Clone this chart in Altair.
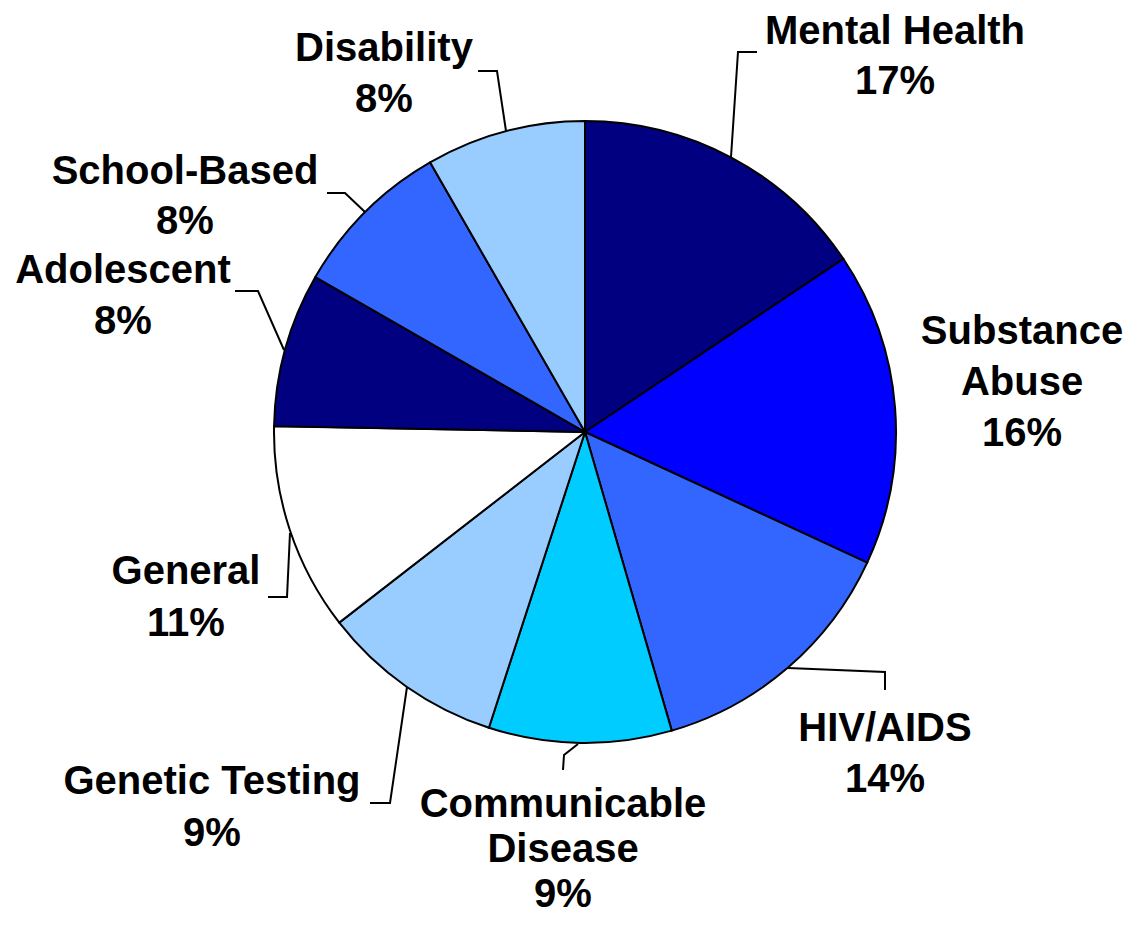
import altair as alt
import pandas as pd

# ---- data ----
categories = ["Mental Health", "Substance Abuse", "HIV/AIDS", "Communicable Disease",
              "Genetic Testing", "General", "Adolescent", "School-Based", "Disability"]
# slice sizes (percent, as drawn)
values = [15.6, 16.3, 13.6, 9.5, 9.5, 10.8, 8.0, 8.4, 8.3]
# percent labels as printed
pct_labels = ["17%", "16%", "14%", "9%", "9%", "11%", "8%", "8%", "8%"]
label_names = [["Mental Health"], ["Substance", "Abuse"], ["HIV/AIDS"],
               ["Communicable", "Disease"], ["Genetic Testing"], ["General"],
               ["Adolescent"], ["School-Based"], ["Disability"]]

# ---- styles / layout ----
colors = ["#000080", "#0000FF", "#3366FF", "#00CCFF", "#99CCFF",
          "#FFFFFF", "#000080", "#3366FF", "#99CCFF"]
W, H = 1116, 911
OFF = 8  # page margin
CX, CY, R = 585 - OFF, 432 - OFF, 311
FS = 40
# label centre x, first-line baseline, line gap (page coords)
label_pos = [(895, 44, 50), (1022, 344, 51), (885, 741, 51), (563, 817, 45),
             (212, 794, 52), (186, 584, 52), (123, 283, 51), (185, 184, 50),
             (384, 61, 51)]
# leader polylines (page coords)
leaders = [
    [(731, 157), (738, 52), (757, 52)],
    [],
    [(788, 668), (885, 672), (885, 690)],
    [(563, 770), (564, 755), (578, 744)],
    [(370, 803), (390, 803), (407, 687)],
    [(268, 597), (287, 597), (290, 533)],
    [(235, 291), (258, 291), (284, 350)],
    [(327, 193), (345, 193), (365, 212)],
    [(478, 71), (497, 71), (506, 131)],
]

pie_df = pd.DataFrame({"category": categories, "value": values,
                       "idx": list(range(len(categories)))})

rows = []
for i, (names, pct) in enumerate(zip(label_names, pct_labels)):
    lx, ly, gap = label_pos[i]
    for j, t in enumerate(names + [pct]):
        rows.append({"text": t, "x": lx - OFF, "y": ly - OFF + j * gap})
text_df = pd.DataFrame(rows)

lrows = []
for i, pts in enumerate(leaders):
    for k, (px, py) in enumerate(pts):
        lrows.append({"lid": i, "k": k, "x": px - OFF, "y": py - OFF})
lead_df = pd.DataFrame(lrows)

xs = alt.Scale(domain=[0, W], range=[0, W])
ys = alt.Scale(domain=[0, H], range=[0, H])

pie = alt.Chart(pie_df).mark_arc(outerRadius=R, stroke="black", strokeWidth=2).encode(
    theta=alt.Theta("value:Q", stack=True),
    order=alt.Order("idx:Q"),
    color=alt.Color("category:N", scale=alt.Scale(domain=categories, range=colors), legend=None),
    x=alt.value(CX),
    y=alt.value(CY),
)

lines = alt.Chart(lead_df).mark_line(color="black", strokeWidth=2).encode(
    x=alt.X("x:Q", scale=xs, axis=None),
    y=alt.Y("y:Q", scale=ys, axis=None),
    detail="lid:N",
    order="k:Q",
)

labels = alt.Chart(text_df).mark_text(
    font="Liberation Sans", fontWeight="bold", fontSize=FS, color="black",
    align="center", baseline="alphabetic"
).encode(
    x=alt.X("x:Q", scale=xs, axis=None),
    y=alt.Y("y:Q", scale=ys, axis=None),
    text="text:N",
)

chart = alt.layer(pie, lines, labels).properties(
    width=W, height=H, padding=0, autosize=alt.AutoSizeParams(type="none")
).configure_view(stroke=None)

chart.save("out.html", embed_options={"renderer": "svg", "actions": False})
